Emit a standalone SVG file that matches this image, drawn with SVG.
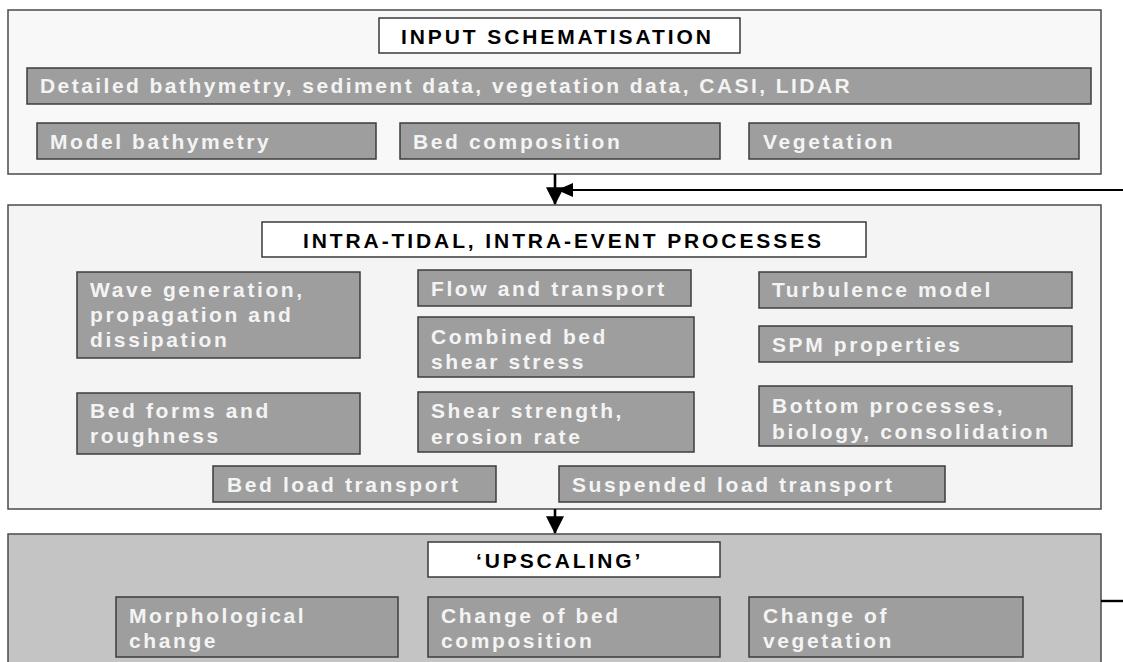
<svg xmlns="http://www.w3.org/2000/svg" width="1123" height="662" viewBox="0 0 1123 662">
<style>
.panel{stroke:#4a4a4a;stroke-width:1.5}
.title{fill:#ffffff;stroke:#3a3a3a;stroke-width:1.5}
.box{fill:#9e9e9e;stroke:#3c3c3c;stroke-width:1.5}
.tt{font-family:"Liberation Sans",Arial,sans-serif;font-weight:bold;font-size:21px;fill:#000;letter-spacing:2.9px}
.bt{font-family:"Liberation Sans",Arial,sans-serif;font-weight:bold;font-size:21px;fill:#f4f4f4;letter-spacing:2.6px}
.conn{stroke:#000;fill:none}
</style>
<defs>
<marker id="ah" markerUnits="userSpaceOnUse" markerWidth="18" markerHeight="18" viewBox="0 0 16 16" refX="15" refY="8" orient="auto">
<path d="M0,0 L16,8 L0,16 Z" fill="#000"/>
</marker>
<marker id="ahs" markerUnits="userSpaceOnUse" markerWidth="16" markerHeight="14" viewBox="0 0 16 14" refX="15" refY="7" orient="auto">
<path d="M0,0 L16,7 L0,14 Z" fill="#000"/>
</marker>
</defs>

<g id="panel-input">
<rect class="panel" x="8" y="10" width="1093" height="164" fill="#f8f8f8"/>
</g>
<g id="panel-intra">
<rect class="panel" x="8" y="205" width="1093" height="304" fill="#f4f4f4"/>
</g>
<g id="panel-upscaling">
<rect class="panel" x="8" y="534" width="1093" height="140" fill="#c4c4c4"/>
</g>

<g id="title-input">
<rect class="title" x="379" y="18" width="361" height="35"/>
<text class="tt" x="401" y="44">INPUT SCHEMATISATION</text>
</g>
<g id="detailed">
<rect class="box" x="27" y="68" width="1064" height="36"/>
<text class="bt" x="40" y="93" style="letter-spacing:2.45px">Detailed bathymetry, sediment data, vegetation data, CASI, LIDAR</text>
</g>
<g id="model-bathymetry">
<rect class="box" x="37" y="123" width="339" height="36"/>
<text class="bt" x="50" y="149">Model bathymetry</text>
</g>
<g id="bed-composition">
<rect class="box" x="400" y="123" width="320" height="36"/>
<text class="bt" x="413" y="149">Bed composition</text>
</g>
<g id="vegetation">
<rect class="box" x="749" y="123" width="330" height="36"/>
<text class="bt" x="763" y="149">Vegetation</text>
</g>

<g id="title-intra">
<rect class="title" x="262" y="222" width="604" height="35"/>
<text class="tt" x="303" y="248">INTRA-TIDAL, INTRA-EVENT PROCESSES</text>
</g>
<g id="wave">
<rect class="box" x="77" y="272" width="283" height="86"/>
<text class="bt" x="90" y="297">Wave generation,</text>
<text class="bt" x="90" y="322">propagation and</text>
<text class="bt" x="90" y="347">dissipation</text>
</g>
<g id="flow">
<rect class="box" x="418" y="270" width="273" height="36"/>
<text class="bt" x="431" y="296">Flow and transport</text>
</g>
<g id="combined">
<rect class="box" x="418" y="317" width="276" height="60"/>
<text class="bt" x="431" y="344">Combined bed</text>
<text class="bt" x="431" y="369">shear stress</text>
</g>
<g id="turbulence">
<rect class="box" x="759" y="272" width="313" height="36"/>
<text class="bt" x="772" y="297">Turbulence model</text>
</g>
<g id="spm">
<rect class="box" x="759" y="326" width="313" height="36"/>
<text class="bt" x="772" y="352">SPM properties</text>
</g>
<g id="bedforms">
<rect class="box" x="77" y="393" width="283" height="61"/>
<text class="bt" x="90" y="418">Bed forms and</text>
<text class="bt" x="90" y="443">roughness</text>
</g>
<g id="shear-strength">
<rect class="box" x="418" y="392" width="276" height="60"/>
<text class="bt" x="431" y="418">Shear strength,</text>
<text class="bt" x="431" y="444">erosion rate</text>
</g>
<g id="bottom-processes">
<rect class="box" x="759" y="386" width="313" height="60"/>
<text class="bt" x="772" y="413">Bottom processes,</text>
<text class="bt" x="772" y="439">biology, consolidation</text>
</g>
<g id="bed-load">
<rect class="box" x="213" y="466" width="283" height="36"/>
<text class="bt" x="227" y="492">Bed load transport</text>
</g>
<g id="suspended-load">
<rect class="box" x="559" y="466" width="386" height="36"/>
<text class="bt" x="572" y="492">Suspended load transport</text>
</g>

<g id="title-upscaling">
<rect class="title" x="428" y="542" width="292" height="35"/>
<text class="tt" x="476" y="568">‘UPSCALING’</text>
</g>
<g id="morphological-change">
<rect class="box" x="116" y="597" width="282" height="60"/>
<text class="bt" x="129" y="623">Morphological</text>
<text class="bt" x="129" y="648">change</text>
</g>
<g id="change-bed-composition">
<rect class="box" x="428" y="597" width="292" height="60"/>
<text class="bt" x="441" y="623">Change of bed</text>
<text class="bt" x="441" y="648">composition</text>
</g>
<g id="change-vegetation">
<rect class="box" x="749" y="597" width="274" height="60"/>
<text class="bt" x="763" y="623">Change of</text>
<text class="bt" x="763" y="648">vegetation</text>
</g>

<g id="connectors">
<line class="conn" x1="555" y1="174" x2="555" y2="204" stroke-width="2.6" marker-end="url(#ah)"/>
<line class="conn" x1="1123" y1="190" x2="558" y2="190" stroke-width="2.2" marker-end="url(#ahs)"/>
<line class="conn" x1="555" y1="509" x2="555" y2="533" stroke-width="2.6" marker-end="url(#ah)"/>
<line class="conn" x1="1101" y1="601" x2="1123" y2="601" stroke-width="2.4"/>
</g>
</svg>
